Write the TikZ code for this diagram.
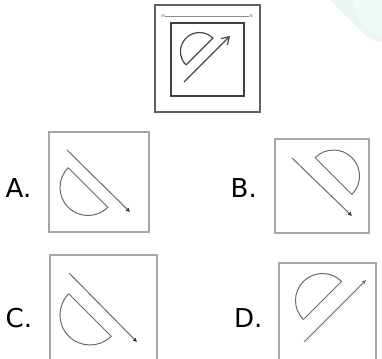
\documentclass[tikz,border=0pt]{standalone}
\usepackage{fontspec}
\setmainfont{DejaVu Sans}
\usetikzlibrary{arrows.meta}
\definecolor{mint}{RGB}{234,247,242}
\definecolor{mintpale}{RGB}{242,250,247}

\begin{document}
\begin{tikzpicture}[
    x=1pt, y=-1pt, % pixel grid, y downwards
    panel/.style={draw=black!35, line width=1.4pt},
    outerbox/.style={draw=black!62, line width=1.3pt},
    innerbox/.style={draw=black!75, line width=2pt},
    sketch/.style={draw=black!58, line width=1pt},
    ray/.style={sketch, -{Latex[length=4pt,width=4.5pt,color=black!80]}},
    bigsketch/.style={draw=black!72, line width=1.2pt},
    bigray/.style={bigsketch, -{Straight Barb[length=7pt,width=9pt]}},
    choice/.style={anchor=base west, inner sep=0pt, font=\fontsize{26}{26}\selectfont},
    tag/.style={inner sep=0pt, font=\fontsize{4}{4}\selectfont, text=black!55}
  ]
    \clip (0,0) rectangle (382,358);
    \fill[white] (0,0) rectangle (382,358);

    % corner decoration
    \fill[mint] (330,0) -- (360,30) .. controls (368,38) and (374,42) .. (382,42) -- (382,0) -- cycle;
    \fill[mintpale] (353,0) .. controls (356,20) and (368,34) .. (382,37) -- (382,0) -- cycle;

    % question figure
    \draw[outerbox] (155,5) rectangle (260,112);
    \draw[innerbox] (171,23) rectangle (244,96);
    \node[tag] (m) at (163,16) {M};
    \node[tag] (n) at (251,16) {N};
    \draw[draw=black!45, line width=0.6pt] (m) -- (n);
    \coordinate (q1) at (186.1,64.9);
    \coordinate (q2) at (212.9,38.1);
    \coordinate (qs) at (184,82);
    \coordinate (qe) at (230,36);
    \draw[bigsketch] (q1) -- (q2) arc[start angle=-45, end angle=-225, radius=19];
    \draw[bigray] (qs) -- (qe);

    % option A
    \node[choice] (la) at (5.5,197) {A.};
    \draw[panel] (49,132) rectangle (149,232);
    \coordinate (a1) at (68.2,167.7);
    \coordinate (a2) at (107.8,207.3);
    \coordinate (as) at (67,150);
    \coordinate (ae) at (130,212);
    \draw[sketch] (a1) -- (a2) arc[start angle=45, end angle=225, radius=28];
    \draw[ray] (as) -- (ae);

    % option B
    \node[choice] (lb) at (230.5,197) {B.};
    \draw[panel] (275,139) rectangle (369,233);
    \coordinate (b1) at (315.1,157.6);
    \coordinate (b2) at (351.9,194.4);
    \coordinate (bs) at (292,158);
    \coordinate (be) at (352,216);
    \draw[sketch] (b1) -- (b2) arc[start angle=45, end angle=-135, radius=26];
    \draw[ray] (bs) -- (be);

    % option C
    \node[choice] (lc) at (5.5,327) {C.};
    \draw[panel] (50,255) rectangle (157,364);
    \coordinate (c1) at (68.8,293.8);
    \coordinate (c2) at (111.2,336.2);
    \coordinate (cs) at (69,273);
    \coordinate (ce) at (137,342);
    \draw[sketch] (c1) -- (c2) arc[start angle=45, end angle=225, radius=30];
    \draw[ray] (cs) -- (ce);

    % option D
    \node[choice] (ld) at (234,327) {D.};
    \draw[panel] (279,263) rectangle (376,364);
    \coordinate (d1) at (303.4,319.6);
    \coordinate (d2) at (341.6,281.4);
    \coordinate (ds) at (304,342);
    \coordinate (de) at (366,280);
    \draw[sketch] (d1) -- (d2) arc[start angle=-45, end angle=-225, radius=27];
    \draw[sketch, -{Stealth[length=4.5pt,width=4pt]}] (ds) -- (de);

  \end{tikzpicture}
\end{document}
